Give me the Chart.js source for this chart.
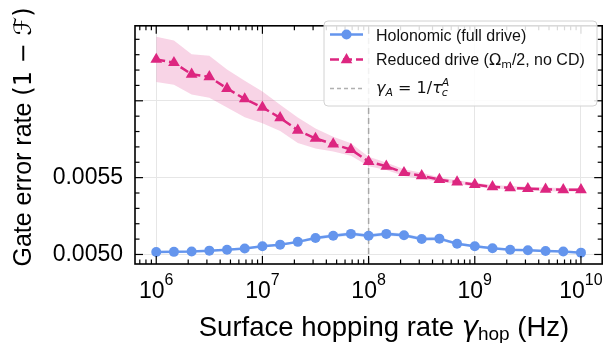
<!DOCTYPE html>
<html>
<head>
<meta charset="utf-8">
<script src="https://cdn.jsdelivr.net/npm/chart.js@4"></script>
<style>
  body { margin: 0; background: #fff; }
  #wrap { width: 609px; height: 343px; }
</style>
</head>
<body>
<div id="wrap"><canvas id="c" width="609" height="343"></canvas></div>
<script>
// hopping rates (Hz), 6 points per decade
const rates = [1.0e6, 1.468e6, 2.154e6, 3.162e6, 4.642e6, 6.813e6,
               1.0e7, 1.468e7, 2.154e7, 3.162e7, 4.642e7, 6.813e7,
               1.0e8, 1.468e8, 2.154e8, 3.162e8, 4.642e8, 6.813e8,
               1.0e9, 1.468e9, 2.154e9, 3.162e9, 4.642e9, 6.813e9, 1.0e10];

const holonomic = [0.005016, 0.005017, 0.005019, 0.005025, 0.005031, 0.005039, 0.005054, 0.005064, 0.005082,
                   0.005107, 0.005122, 0.005134, 0.005122, 0.005134, 0.005125, 0.005101, 0.005103, 0.005070,
                   0.005054, 0.005041, 0.005031, 0.005027, 0.005023, 0.005019, 0.005012];
const holonomicHi = [0.005021, 0.005022, 0.005024, 0.005030, 0.005036, 0.005044, 0.005062, 0.005072, 0.005090,
                     0.005119, 0.005134, 0.005146, 0.005134, 0.005146, 0.005137, 0.005113, 0.005115, 0.005078,
                     0.005062, 0.005049, 0.005036, 0.005032, 0.005028, 0.005024, 0.005017];
const holonomicLo = [0.005011, 0.005012, 0.005014, 0.005020, 0.005026, 0.005034, 0.005046, 0.005056, 0.005074,
                     0.005095, 0.005110, 0.005122, 0.005110, 0.005122, 0.005113, 0.005089, 0.005091, 0.005062,
                     0.005046, 0.005033, 0.005026, 0.005022, 0.005018, 0.005014, 0.005007];

const reduced = [0.006269, 0.006248, 0.006172, 0.006156, 0.006080, 0.006012, 0.005957, 0.005889, 0.005808,
                 0.005755, 0.005718, 0.005683, 0.005605, 0.005574, 0.005532, 0.005512, 0.005487, 0.005471,
                 0.005455, 0.005440, 0.005434, 0.005428, 0.005424, 0.005421, 0.005421];
const reducedHi = [0.006416, 0.006392, 0.006303, 0.006293, 0.006203, 0.006131, 0.006060, 0.005975, 0.005891,
                   0.005820, 0.005766, 0.005724, 0.005636, 0.005599, 0.005554, 0.005531, 0.005502, 0.005483,
                   0.005467, 0.005452, 0.005446, 0.005440, 0.005436, 0.005433, 0.005433];
const reducedLo = [0.006122, 0.006104, 0.006041, 0.006019, 0.005957, 0.005893, 0.005854, 0.005803, 0.005725,
                   0.005690, 0.005670, 0.005642, 0.005574, 0.005549, 0.005510, 0.005493, 0.005472, 0.005459,
                   0.005443, 0.005428, 0.005422, 0.005416, 0.005412, 0.005409, 0.005409];

const gammaA = 1e8;  // 1/tau_c^A

const xMin = Math.pow(10, 5.8), xMax = Math.pow(10, 10.2);
const yMin = 0.004938, yMax = 0.006488;
const xMajor = [1e6, 1e7, 1e8, 1e9, 1e10];
const xExp = ['6', '7', '8', '9', '10'];
const yMajor = [0.0050, 0.0055, 0.0060];
const yTickLabels = ['0.0050', '0.0055', ''];

const BLUE = '#6495ed';
const PINK = '#dd2680';
const SANS = '"Liberation Sans", Arial, sans-serif';
const DJ = '"DejaVu Sans", sans-serif';

const pts = ys => rates.map((r, i) => ({x: r, y: ys[i]}));

function runs(ctx, parts, x, y, measureOnly) {
    let w = 0;
    for (const p of parts) {
        ctx.font = p.f;
        if (!measureOnly) ctx.fillText(p.t, x + w, y - (p.dy || 0));
        const pw = ctx.measureText(p.t).width;
        if (!p.stack) w += pw;   // stacked sub/sup share the same x
    }
    return w;
}

const decor = {
    id: 'decor',
    afterDraw(chart) {
        const ctx = chart.ctx, a = chart.chartArea;
        const xs = chart.scales.x, ys = chart.scales.y;
        ctx.save();
        ctx.strokeStyle = '#000';
        ctx.fillStyle = '#000';

        // inward ticks on all four sides
        ctx.lineWidth = 1.2;
        const tick = (x1, y1, x2, y2) => { ctx.beginPath(); ctx.moveTo(x1, y1); ctx.lineTo(x2, y2); ctx.stroke(); };
        for (let d = 5; d <= 10; d++) {
            for (let k = 1; k <= 9; k++) {
                const v = k * Math.pow(10, d);
                if (v < xMin || v > xMax) continue;
                const px = xs.getPixelForValue(v);
                const len = k === 1 ? 8 : 4.5;
                tick(px, a.bottom, px, a.bottom - len);
                tick(px, a.top, px, a.top + len);
            }
        }
        for (let m = 49; m <= 65; m++) {
            const v = m / 10000;
            if (v < yMin || v > yMax) continue;
            const py = ys.getPixelForValue(v);
            const len = m % 5 === 0 ? 8 : 4.5;
            tick(a.left, py, a.left + len, py);
            tick(a.right, py, a.right - len, py);
        }
        ctx.lineWidth = 1.6;
        ctx.strokeRect(a.left, a.top, a.right - a.left, a.bottom - a.top);

        // x tick labels 10^n
        ctx.textBaseline = 'alphabetic';
        ctx.textAlign = 'left';
        xMajor.forEach((v, i) => {
            const px = xs.getPixelForValue(v);
            const parts = [{t: '10', f: '23px ' + SANS}, {t: xExp[i], f: '16px ' + SANS, dy: 13}];
            const w = runs(ctx, parts, 0, 0, true);
            runs(ctx, parts, px - w / 2, 298);
        });

        // x title
        const xt = [
            {t: 'Surface hopping rate ', f: '27.5px ' + SANS},
            {t: 'γ', f: 'oblique 27.5px ' + DJ},
            {t: 'hop', f: '19px ' + SANS, dy: -4},
            {t: ' (Hz)', f: '27.5px ' + SANS}
        ];
        const xw = runs(ctx, xt, 0, 0, true);
        runs(ctx, xt, 384 - xw / 2, 335.5);

        // y title
        const yt = [
            {t: 'Gate error rate ', f: '25px ' + SANS},
            {t: '(1 − ', f: '24px ' + DJ},
            {t: 'ℱ', f: 'italic 24px ' + DJ},
            {t: ')', f: '24px ' + DJ}
        ];
        const yw = runs(ctx, yt, 0, 0, true);
        ctx.save();
        ctx.translate(31, 137);
        ctx.rotate(-Math.PI / 2);
        runs(ctx, yt, -yw / 2, 0);
        ctx.restore();

        // legend
        const L = {x: 324, y: 21, w: 273, h: 85};
        ctx.beginPath();
        ctx.roundRect(L.x, L.y, L.w, L.h, 4);
        ctx.fillStyle = 'rgba(255,255,255,0.85)';
        ctx.fill();
        ctx.strokeStyle = '#d2d2d2';
        ctx.lineWidth = 1;
        ctx.stroke();

        const hx1 = 330, hx2 = 363, hm = 346.5;
        // row 1
        ctx.strokeStyle = BLUE; ctx.lineWidth = 2.5; ctx.setLineDash([]);
        tick(hx1, 34.5, hx2, 34.5);
        ctx.fillStyle = BLUE;
        ctx.beginPath(); ctx.arc(hm, 34.5, 5, 0, Math.PI * 2); ctx.fill();
        // row 2
        ctx.strokeStyle = PINK; ctx.lineWidth = 2.5; ctx.setLineDash([9, 4]);
        tick(hx1, 59.5, hx2, 59.5);
        ctx.setLineDash([]);
        ctx.fillStyle = PINK;
        ctx.beginPath();
        ctx.moveTo(hm, 59.5 - 6.5); ctx.lineTo(hm - 5.8, 59.5 + 3.8); ctx.lineTo(hm + 5.8, 59.5 + 3.8);
        ctx.closePath(); ctx.fill();
        // row 3
        ctx.strokeStyle = '#b0b0b0'; ctx.lineWidth = 1.3; ctx.setLineDash([4, 3]);
        tick(hx1, 88.5, hx2, 88.5);
        ctx.setLineDash([]);

        ctx.fillStyle = '#111';
        runs(ctx, [{t: 'Holonomic (full drive)', f: '16px ' + SANS}], 376, 41);
        runs(ctx, [
            {t: 'Reduced drive (', f: '16px ' + SANS},
            {t: 'Ω', f: '16px ' + DJ},
            {t: 'm', f: '11px ' + DJ, dy: -3},
            {t: '/2, no CD)', f: '16px ' + SANS}
        ], 376, 65);
        runs(ctx, [
            {t: 'γ', f: 'oblique 16px ' + DJ},
            {t: 'A', f: 'oblique 11px ' + DJ, dy: -3},
            {t: ' = 1/', f: '16px ' + DJ},
            {t: 'τ', f: 'oblique 16px ' + DJ},
            {t: 'A', f: 'oblique 11px ' + DJ, dy: 7, stack: true},
            {t: 'c', f: 'oblique 11px ' + DJ, dy: -3}
        ], 376, 93);
        ctx.restore();
    }
};

new Chart(document.getElementById('c'), {
    type: 'line',
    data: {
        datasets: [
            {
                label: 'Holonomic (full drive)',
                data: pts(holonomic),
                borderColor: BLUE, backgroundColor: BLUE,
                borderWidth: 2.5, pointRadius: 5, pointBorderWidth: 0,
                pointStyle: 'circle', tension: 0, order: 1
            },
            {
                label: 'Reduced drive (Ωm/2, no CD)',
                data: pts(reduced),
                borderColor: PINK, backgroundColor: PINK,
                borderWidth: 2.5, borderDash: [9, 4], pointRadius: 6.8, pointBorderWidth: 0,
                pointStyle: 'triangle', tension: 0, order: 2
            },
            {
                label: 'γA = 1/τcA',
                data: [{x: gammaA, y: yMin}, {x: gammaA, y: yMax}],
                borderColor: '#a8a8a8', borderWidth: 1.5, borderDash: [6, 4],
                pointRadius: 0, order: 3
            },
            {
                label: 'holo lo', data: pts(holonomicLo),
                borderWidth: 0, pointRadius: 0, fill: false, order: 6
            },
            {
                label: 'holo hi', data: pts(holonomicHi),
                borderWidth: 0, pointRadius: 0, fill: '-1',
                backgroundColor: 'rgba(100,149,237,0.2)', order: 5
            },
            {
                label: 'red lo', data: pts(reducedLo),
                borderWidth: 0, pointRadius: 0, fill: false, order: 8
            },
            {
                label: 'red hi', data: pts(reducedHi),
                borderWidth: 0, pointRadius: 0, fill: '-1',
                backgroundColor: 'rgba(221,38,128,0.2)', order: 7
            }
        ]
    },
    options: {
        responsive: false,
        animation: false,
        layout: { padding: { top: 13, right: 4, left: 0, bottom: 0 } },
        plugins: { legend: { display: false }, tooltip: { enabled: false } },
        scales: {
            x: {
                type: 'logarithmic',
                min: xMin, max: xMax,
                afterBuildTicks: s => { s.ticks = xMajor.map(v => ({value: v})); },
                afterFit: s => { s.height = 79; },
                ticks: { display: false },
                grid: { color: '#e6e6e6', lineWidth: 1, drawTicks: false },
                border: { display: false }
            },
            y: {
                type: 'linear',
                min: yMin, max: yMax,
                afterBuildTicks: s => { s.ticks = yMajor.map(v => ({value: v})); },
                afterFit: s => { s.width = 135; },
                ticks: {
                    padding: 12,
                    color: '#000',
                    font: { family: SANS, size: 23 },
                    callback: v => {
                        const i = yMajor.findIndex(m => Math.abs(m - v) < 1e-9);
                        return i >= 0 ? yTickLabels[i] : '';
                    }
                },
                grid: { color: '#e6e6e6', lineWidth: 1, drawTicks: false },
                border: { display: false }
            }
        }
    },
    plugins: [decor]
});
</script>
</body>
</html>
